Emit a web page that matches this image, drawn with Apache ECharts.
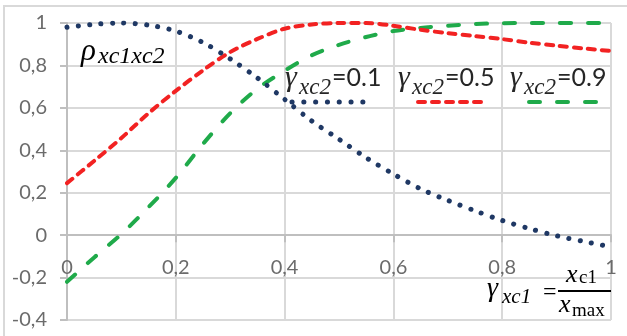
<!DOCTYPE html>
<html>
<head>
<meta charset="utf-8">
<script src="https://cdn.jsdelivr.net/npm/echarts@6/dist/echarts.min.js"></script>
<style>
  html, body { margin: 0; padding: 0; background: #fff; }
  #chart { width: 627px; height: 336px; }
</style>
</head>
<body>
<div id="chart"></div>
<script>
// x = gamma_xc1
var xValues = [0, 0.05, 0.1, 0.15, 0.2, 0.25, 0.3, 0.35, 0.4, 0.45, 0.5, 0.55, 0.6, 0.65, 0.7, 0.75, 0.8, 0.85, 0.9, 0.95, 1];
// rho_xc1xc2 for gamma_xc2 = 0.1 / 0.5 / 0.9
var rhoG01 = [0.98, 0.994, 1.0, 0.99, 0.962, 0.908, 0.831, 0.741, 0.64, 0.538, 0.452, 0.365, 0.288, 0.218, 0.164, 0.115, 0.069, 0.031, -0.003, -0.030, -0.055];
var rhoG05 = [0.245, 0.35, 0.458, 0.575, 0.68, 0.777, 0.863, 0.925, 0.973, 0.993, 1.0, 1.0, 0.987, 0.968, 0.952, 0.938, 0.924, 0.907, 0.893, 0.88, 0.868];
var rhoG09 = [-0.22, -0.105, 0.005, 0.132, 0.27, 0.43, 0.575, 0.69, 0.775, 0.848, 0.897, 0.934, 0.962, 0.977, 0.987, 0.995, 0.999, 1.0, 1.0, 1.0, 1.0];
var legendNames = ['0.1', '0.5', '0.9'];

var yMin = -0.4, yMax = 1;
var chartH = 336, gridTop = 23, gridBottom = 16;

var navy = '#1f3864', red = '#f22222', green = '#1faa4a';
var mathFont = '"Liberation Serif", "DejaVu Serif", serif';
var labelFont = 'Lato, "Liberation Sans", sans-serif';

function pairs(ys) {
    return xValues.map(function (x, i) { return [x, ys[i]]; });
}

function commaNum(v) {
    return String(Math.round(v * 10) / 10).replace('.', ',');
}

// one piece of text, y = vertical middle
function txt(x, y, s, size, italic, font, color) {
    return {
        type: 'text', x: x, y: y, z: 10, silent: true,
        style: {
            text: s, fontSize: size, fontFamily: font || mathFont,
            fontStyle: italic ? 'italic' : 'normal',
            fill: color || '#000', verticalAlign: 'middle', align: 'left'
        }
    };
}

// legend entry: gamma_xc2=value above, line sample below
function legendEntry(x, name) {
    return [
        txt(x, 78, 'γ', 30, true, mathFont, '#262626'),
        txt(x + 14, 88, 'xc2', 23, true, mathFont, '#262626'),
        txt(x + 47, 78, '=' + name, 25, false, labelFont, '#262626')
    ];
}

function legendLine(x1, x2, color, width, dash) {
    return {
        type: 'line', z: 10, silent: true,
        shape: { x1: x1, y1: 102, x2: x2, y2: 102 },
        style: { stroke: color, lineWidth: width, lineDash: dash, lineCap: 'round' }
    };
}

var graphics = [
    // outer frame (cropped at right/bottom)
    { type: 'rect', silent: true, shape: { x: 4, y: 6, width: 660, height: 360 }, style: { fill: null, stroke: '#d9d9d9', lineWidth: 2 } },
    txt(81, 52, 'ρ', 31, true),
    txt(98, 57, 'xc1xc2', 24, true),
    legendLine(292, 364, navy, 5, [0.1, 11.7]),
    legendLine(418, 484, red, 4, [7, 7]),
    legendLine(529, 596, green, 4, [11, 17]),
    // x axis title: gamma_xc1 = x_c1 / x_max
    txt(487, 289, 'γ', 28, true),
    txt(502, 297, 'xc1', 21, true),
    txt(543, 293, '=', 24, false),
    txt(566, 275, 'x', 26, true),
    txt(579, 278, 'c1', 19, false),
    { type: 'line', z: 10, silent: true, shape: { x1: 558, y1: 291, x2: 611, y2: 291 }, style: { stroke: '#000', lineWidth: 2 } },
    txt(559, 305, 'x', 26, true),
    txt(572, 311, 'max', 19, false)
];
graphics = graphics.concat(legendEntry(285, legendNames[0]), legendEntry(398, legendNames[1]), legendEntry(510, legendNames[2]));

// x axis sits on y = 0 (onZero is not honoured here, so shift it up)
var gridH = chartH - gridTop - gridBottom;
var zeroOffset = -gridH * (0 - yMin) / (yMax - yMin);

var option = {
    backgroundColor: '#fff',
    animation: false,
    grid: { left: 67, right: 16, top: gridTop, bottom: gridBottom, containLabel: false, outerBoundsMode: 'none' },
    xAxis: {
        type: 'value', min: 0, max: 1, interval: 0.2, position: 'bottom', offset: zeroOffset,
        axisLine: { onZero: false, lineStyle: { color: '#bfbfbf', width: 2 } },
        axisTick: { show: true, length: 7, lineStyle: { color: '#bfbfbf', width: 2 } },
        axisLabel: { margin: 22, color: '#6b6b6b', fontSize: 20, fontFamily: labelFont, formatter: commaNum },
        splitLine: { show: true, lineStyle: { color: '#d9d9d9', width: 2 } }
    },
    yAxis: {
        type: 'value', min: yMin, max: yMax, interval: 0.2,
        axisLine: { show: true, lineStyle: { color: '#bfbfbf', width: 2 } },
        axisTick: { show: true, length: 7, lineStyle: { color: '#bfbfbf', width: 2 } },
        axisLabel: { margin: 20, color: '#6b6b6b', fontSize: 20, fontFamily: labelFont, formatter: commaNum },
        splitLine: { show: true, lineStyle: { color: '#d9d9d9', width: 2 } }
    },
    series: [
        {
            name: legendNames[2], type: 'line', data: pairs(rhoG09), smooth: 0.3, showSymbol: false,
            lineStyle: { color: green, width: 4, type: [11, 17], cap: 'round' }
        },
        {
            name: legendNames[1], type: 'line', data: pairs(rhoG05), smooth: 0.3, showSymbol: false,
            lineStyle: { color: red, width: 4, type: [7, 7], cap: 'round' }
        },
        {
            name: legendNames[0], type: 'line', data: pairs(rhoG01), smooth: 0.3, showSymbol: false,
            lineStyle: { color: navy, width: 5, type: [0.1, 11.3], cap: 'round' }
        }
    ],
    graphic: graphics
};

var chart = echarts.init(document.getElementById('chart'));
chart.setOption(option);
</script>
</body>
</html>
